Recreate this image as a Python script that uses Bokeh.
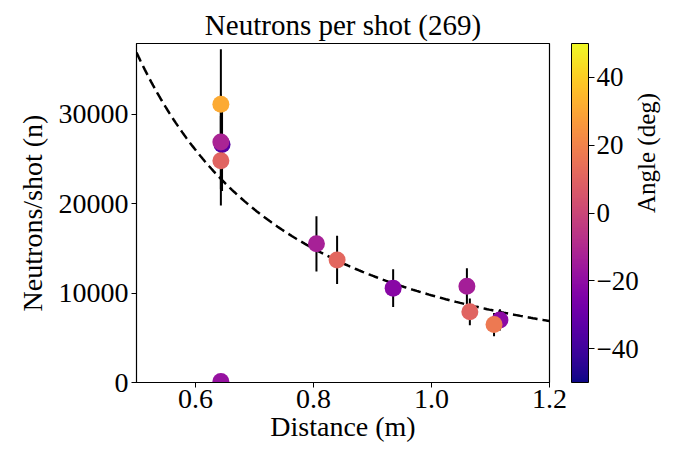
import numpy as np
from bokeh.plotting import figure
from bokeh.models import (Range1d, FixedTicker, LinearColorMapper, ColorBar,
                          ColumnDataSource, LinearAxis)
from bokeh.palettes import Plasma256
from bokeh.embed import file_html
from bokeh.resources import INLINE

# ---- data ----
distance = [0.643, 0.645, 0.643, 0.643, 0.643, 0.805, 0.840, 0.935, 1.060, 1.065, 1.116, 1.106]
neutrons = [31100, 26600, 26900, 24800, 100, 15500, 13700, 10550, 10770, 7900, 7000, 6480]
errors   = [6150, 5200, 5300, 5000, 0, 3100, 2700, 2100, 2000, 1500, 1200, 1300]
angles   = [31, -35, -12, 10, -18, -13, 11, -22, -14, 10, -21, 17]

# fitted power law: n = fit_a * (fit_r0 / r) ** fit_b
fit_a = 36900
fit_r0 = 0.5
fit_b = 1.92

x_ticks = [0.6, 0.8, 1.0, 1.2]
y_ticks = [0, 10000, 20000, 30000]
cb_ticks = [-40, -20, 0, 20, 40]

FONT = "Liberation Serif"

src = ColumnDataSource(dict(
    x=distance, y=neutrons, angle=angles,
    lo=[n - e for n, e in zip(neutrons, errors)],
    hi=[n + e for n, e in zip(neutrons, errors)],
))

p = figure(width=676, height=444, output_backend="svg", toolbar_location=None,
           x_range=Range1d(0.5, 1.2), y_range=Range1d(0, 37900),
           min_border_left=136, min_border_right=0, min_border_top=43,
           min_border_bottom=56)
p.title.text = "Neutrons per shot (269)"
p.title.align = "center"
p.title.text_font = FONT
p.title.text_font_size = "29px"
p.title.text_font_style = "normal"
p.title.text_color = "black"
p.title.standoff = 6

p.xgrid.visible = False
p.ygrid.visible = False
p.outline_line_color = "black"
p.outline_line_width = 1.2
p.background_fill_color = "white"
p.border_fill_color = "white"

for ax, ticks in ((p.xaxis, x_ticks), (p.yaxis, y_ticks)):
    ax.ticker = FixedTicker(ticks=ticks)
    ax.major_label_text_font = FONT
    ax.major_label_text_font_size = "28px"
    ax.major_label_text_color = "black"
    ax.axis_label_text_font = FONT
    ax.axis_label_text_font_size = "28px"
    ax.axis_label_text_font_style = "normal"
    ax.axis_label_text_color = "black"
    ax.minor_tick_line_color = None
    ax.major_tick_in = 0
    ax.major_tick_out = 5
    ax.major_tick_line_color = "black"
    ax.axis_line_color = "black"
    ax.major_label_standoff = 3

p.xaxis.axis_label = "Distance (m)"
p.yaxis.axis_label = "Neutrons/shot (n)"
p.xaxis.major_label_standoff = 2
p.xaxis.axis_label_standoff = 0
p.yaxis.axis_label_standoff = 8
p.xaxis.major_label_overrides = {0.6: "0.6", 0.8: "0.8", 1.0: "1.0", 1.2: "1.2"}

# fit curve
r = np.linspace(0.5, 1.2, 200)
p.line(r, fit_a * (fit_r0 / r) ** fit_b, line_color="black", line_width=2.5,
       line_dash="10 5")

# error bars
p.segment(x0="x", y0="lo", x1="x", y1="hi", source=src, line_color="black", line_width=2)

mapper = LinearColorMapper(palette=Plasma256, low=-50, high=50)
p.scatter(x="x", y="y", source=src, size=17, line_color=None,
          fill_color={"field": "angle", "transform": mapper})

cb = ColorBar(color_mapper=mapper, width=17, padding=0, margin=0,
              location=(22, 0),
              ticker=FixedTicker(ticks=cb_ticks),
              major_label_overrides={-40: "\u221240", -20: "\u221220", 0: "0", 20: "20", 40: "40"},
              major_label_text_font=FONT, major_label_text_font_size="27px",
              major_label_text_color="black",
              major_tick_in=0, major_tick_out=6, major_tick_line_color="black",
              bar_line_color="black", label_standoff=2,
              background_fill_color=None, border_line_color=None)
p.add_layout(cb, "right")

# colour-bar label as an otherwise empty axis on the right
ax_r = LinearAxis(axis_label="Angle (deg)", ticker=FixedTicker(ticks=[]),
                  axis_line_color=None, major_tick_line_color=None,
                  major_tick_in=0, major_tick_out=0, major_label_standoff=0,
                  minor_tick_line_color=None, major_label_text_font_size="0px",
                  axis_label_text_font=FONT, axis_label_text_font_size="25px",
                  axis_label_text_font_style="normal", axis_label_text_color="black",
                  axis_label_standoff=5)
if "axis_label_orientation" in ax_r.properties():
    ax_r.axis_label_orientation = np.pi / 2
p.add_layout(ax_r, "right")

open("out.html", "w").write(file_html(p, INLINE))
